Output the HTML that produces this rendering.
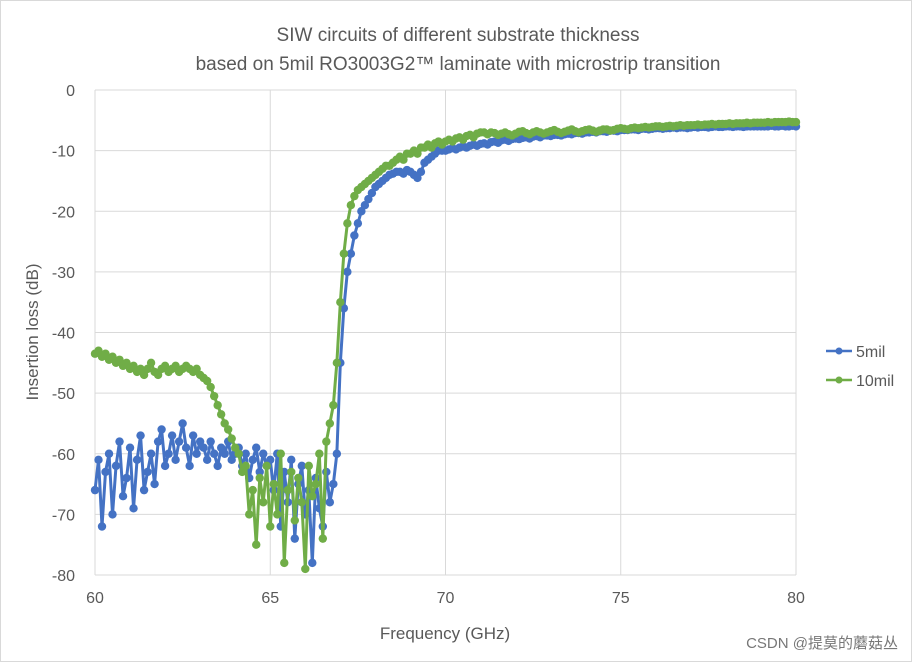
<!DOCTYPE html>
<html><head><meta charset="utf-8"><style>
html,body{margin:0;padding:0;background:#fff;}
svg{display:block;font-family:"Liberation Sans","Noto Sans CJK SC",sans-serif;}
</style></head><body>
<svg id="chart" width="912" height="662" viewBox="0 0 912 662">
<rect x="0.5" y="0.5" width="911" height="661" fill="#fff" stroke="#d9d9d9"/>
<text x="458" y="41" text-anchor="middle" font-size="19" fill="#595959">SIW circuits of different substrate thickness</text>
<text x="458" y="70" text-anchor="middle" font-size="19" fill="#595959">based on 5mil RO3003G2™ laminate with microstrip transition</text>
<g id="grid"></g>
<g id="ticks"></g>
<g id="series"></g>
<text x="445" y="639" text-anchor="middle" font-size="17" fill="#595959">Frequency (GHz)</text>
<text transform="translate(38,332) rotate(-90)" text-anchor="middle" font-size="17" fill="#595959">Insertion loss (dB)</text>
<g>
<g><line x1="826" y1="351" x2="852" y2="351" stroke="#4472C4" stroke-width="2.5"/><circle cx="839" cy="351" r="3.5" fill="#4472C4"/><text x="856" y="357" font-size="16" fill="#595959">5mil</text></g>
<g><line x1="826" y1="380" x2="852" y2="380" stroke="#70AD47" stroke-width="2.5"/><circle cx="839" cy="380" r="3.5" fill="#70AD47"/><text x="856" y="386" font-size="16" fill="#595959">10mil</text></g>
</g>
<text x="898" y="648" text-anchor="end" font-size="15" fill="#777">CSDN @提莫的蘑菇丛</text>
</svg>
<script>
const xTicks=[60,65,70,75,80];
const yTicks=[0,-10,-20,-30,-40,-50,-60,-70,-80];
const freqStart=60, freqStep=0.1;
const loss5mil=[-66,-61,-72,-63,-60,-70,-62,-58,-67,-64,-59,-69,-61,-57,-66,-63,-60,-65,-58,-56,-62,-60,-57,-61,-58,-55,-59,-62,-57,-60,-58,
-59,-61,-58,-60,-62,-59,-60,-58,-61,-60,-59,-62,-60,-64,-61,-59,-63,-60,-62,-61,
-66,-60,-72,-63,-68,-61,-74,-65,-62,-70,-66,-78,-64,-69,-72,-63,-68,-65,
-60,-45,-36,-30,-27,-24,-22,-20,-19,-18,-17,
-16,-15.5,-15,-14.5,-14,-13.8,-13.5,-13.5,-13.8,-13.2,-13.5,-14,-14.5,-13.5,-12,-11.5,-11,-10.5,-10,-10,-10,
-9.8,-9.6,-9.8,-9.5,-9.3,-9.5,-9.2,-9,-9.2,-8.9,
-8.8,-9,-8.6,-8.5,-8.7,-8.3,-8.2,-8.4,-8.1,-8,
-8.1,-7.9,-7.8,-8,-7.7,-7.6,-7.8,-7.5,-7.5,-7.6,
-7.4,-7.4,-7.5,-7.3,-7.2,-7.3,-7.1,-7.1,-7.2,-7,
-7,-6.9,-7,-6.8,-6.8,-6.9,-6.7,-6.7,-6.8,-6.6,
-6.6,-6.6,-6.5,-6.5,-6.6,-6.4,-6.4,-6.5,-6.4,-6.3,
-6.3,-6.4,-6.3,-6.3,-6.2,-6.3,-6.2,-6.2,-6.3,-6.2,
-6.1,-6.2,-6.1,-6.1,-6.2,-6.1,-6,-6.1,-6.1,-6,
-6,-6.1,-6,-6,-6.1,-6,-6,-6,-6,-6,
-6,-6,-5.9,-6,-6,-5.9,-6,-6,-5.9,-6];
const loss10mil=[-43.5,-43,-44,-43.5,-44.5,-44,-45,-44.5,-45.5,-45,-46,-45.5,-46.5,-46,-47,-46,-45,-46.5,-47,-46,-45.5,-46.5,-46,-45.5,-46.5,-46,-45.5,-46,-46.5,-46,-47,
-47.5,-48,-49,-50.5,-52,-53.5,-55,-56,-57.5,-59,-60,-63,-62,-70,-66,-75,-64,-68,-62,-72,
-65,-70,-60,-78,-66,-63,-71,-64,-68,-79,-62,-67,-65,-60,-74,-58,-55,-52,
-45,-35,-27,-22,-19,-17.5,-16.5,-16,-15.5,-15,-14.5,
-14,-13.5,-13,-12.5,-12.5,-12,-11.5,-11,-11.5,-10.5,-10.5,-10,-10.5,-9.5,-9.5,-9,-9.5,-8.8,-8.5,-9,-8.5,
-8.2,-8.5,-8,-7.8,-8.2,-7.6,-7.4,-7.8,-7.2,-7,
-7,-7.3,-7,-7.1,-7.4,-7.2,-7,-7.3,-7.5,-7.2,
-6.9,-6.8,-7.1,-7.3,-7,-6.8,-7,-7.2,-7,-6.8,
-6.6,-6.9,-7.1,-6.9,-6.7,-6.5,-6.8,-7,-6.8,-6.6,
-6.5,-6.7,-6.9,-6.7,-6.5,-6.5,-6.7,-6.6,-6.4,-6.3,
-6.4,-6.5,-6.3,-6.2,-6.3,-6.2,-6.1,-6.2,-6.1,-6,
-6,-6.1,-6,-5.9,-6,-5.9,-5.8,-5.9,-5.8,-5.8,
-5.8,-5.7,-5.8,-5.7,-5.7,-5.6,-5.7,-5.6,-5.6,-5.6,
-5.5,-5.6,-5.5,-5.5,-5.5,-5.4,-5.5,-5.4,-5.4,-5.4,
-5.4,-5.3,-5.4,-5.3,-5.3,-5.3,-5.3,-5.2,-5.3,-5.3];

const NS='http://www.w3.org/2000/svg';
const L=95,R=796,T=90,B=575;
function xs(v){return L+(v-60)/20*(R-L);}
function ys(v){return T+(0-v)/80*(B-T);}
function mk(tag,attrs,parent){const e=document.createElementNS(NS,tag);for(const k in attrs)e.setAttribute(k,attrs[k]);parent.appendChild(e);return e;}
const grid=document.getElementById('grid'),ticks=document.getElementById('ticks'),series=document.getElementById('series');
yTicks.forEach(t=>{
  const g=mk('line',{x1:L,x2:R,y1:ys(t),y2:ys(t),stroke:'#d9d9d9','stroke-width':1},grid);
  
  
  const tx=mk('text',{x:L-20,y:ys(t)+6,'text-anchor':'end','font-size':16,fill:'#595959'},ticks);
  tx.textContent=t;
  
  
});
xTicks.forEach(t=>{
  const g=mk('line',{x1:xs(t),x2:xs(t),y1:T,y2:B,stroke:'#d9d9d9','stroke-width':1},grid);
  
  
  const tx=mk('text',{x:xs(t),y:B+28,'text-anchor':'middle','font-size':16,fill:'#595959'},ticks);
  tx.textContent=t;
  
  
});
function draw(data,color,name){
  const g=mk('g',{},series);
  
  
  const pts=data.map((v,i)=>xs(freqStart+i*freqStep).toFixed(2)+','+ys(Math.max(v,-80)).toFixed(2)).join(' ');
  const pl=mk('polyline',{points:pts,fill:'none',stroke:color,'stroke-width':3,'stroke-linejoin':'round'},g);
  
  
  data.forEach((v,i)=>{
    const c=mk('circle',{cx:xs(freqStart+i*freqStep),cy:ys(Math.max(v,-80)),r:4.2,fill:color},g);
    
    
  });
}
draw(loss5mil,'#4472C4','5mil');
draw(loss10mil,'#70AD47','10mil');
</script>
</body></html>
